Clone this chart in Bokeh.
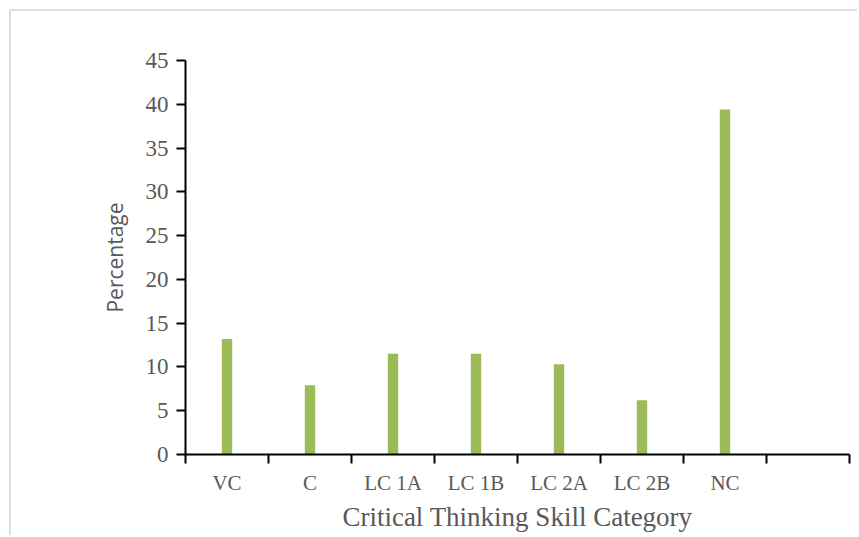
from bokeh.plotting import figure
from bokeh.models import FixedTicker, Range1d, ColumnDataSource
from bokeh.embed import file_html
from bokeh.resources import INLINE

categories = ["VC", "C", "LC 1A", "LC 1B", "LC 2A", "LC 2B", "NC", ""]
values = [13.2, 7.9, 11.5, 11.5, 10.3, 6.2, 39.4]
y_ticks = [0, 5, 10, 15, 20, 25, 30, 35, 40, 45]

xs = [i + 0.5 for i in range(len(values))]
src = ColumnDataSource(dict(x=xs, top=values))

p = figure(width=848, height=526, output_backend="svg", toolbar_location=None,
           x_range=Range1d(0, len(categories)), y_range=Range1d(0, 45),
           min_border_left=174, min_border_top=49, min_border_right=10, min_border_bottom=83)
p.styles = {"margin-left": "9px", "margin-top": "9px",
            "border-top": "2px solid #dedede", "border-left": "2px solid #dedede"}
p.outline_line_color = None
p.grid.visible = False
p.background_fill_color = "white"
p.border_fill_color = "white"

p.vbar(x="x", top="top", width=0.125, bottom=0, source=src, fill_color="#9BBB59", line_color=None)

label_pos = [i + 0.5 for i in range(len(categories))]
boundaries = list(range(len(categories) + 1))
p.xaxis.ticker = FixedTicker(ticks=label_pos, minor_ticks=boundaries)
p.xaxis.major_label_overrides = {pos: lab for pos, lab in zip(label_pos, categories)}
p.xaxis.major_tick_line_color = None
p.xaxis.major_tick_out = 0
p.xaxis.major_tick_in = 0
p.xaxis.minor_tick_out = 9
p.xaxis.minor_tick_in = 0
p.xaxis.minor_tick_line_color = "black"
p.xaxis.minor_tick_line_width = 2

p.yaxis.ticker = FixedTicker(ticks=y_ticks)
p.yaxis.major_tick_out = 9
p.yaxis.major_tick_in = 0
p.yaxis.minor_tick_line_color = None
p.yaxis.major_tick_line_width = 2
p.yaxis.major_tick_line_color = "black"

for ax in (p.xaxis, p.yaxis):
    ax.axis_line_color = "black"
    ax.axis_line_width = 2
    ax.major_label_text_font = "Liberation Serif"
    ax.major_label_text_color = "#595959"

p.xaxis.major_label_text_font_size = "21px"
p.yaxis.major_label_text_font_size = "23px"
p.xaxis.major_label_standoff = 7
p.yaxis.major_label_standoff = 8

p.xaxis.axis_label = "Critical Thinking Skill Category"
p.xaxis.axis_label_text_font = "Liberation Serif"
p.xaxis.axis_label_text_font_size = "27px"
p.xaxis.axis_label_text_font_style = "normal"
p.xaxis.axis_label_text_color = "#595959"
p.xaxis.axis_label_standoff = 4

p.yaxis.axis_label = "Percentage"
p.yaxis.axis_label_text_font = "Open Sans"
p.yaxis.axis_label_text_font_size = "21px"
p.yaxis.axis_label_text_font_style = "normal"
p.yaxis.axis_label_text_color = "#595959"
p.yaxis.axis_label_standoff = 14

open("out.html", "w").write(file_html(p, INLINE))
